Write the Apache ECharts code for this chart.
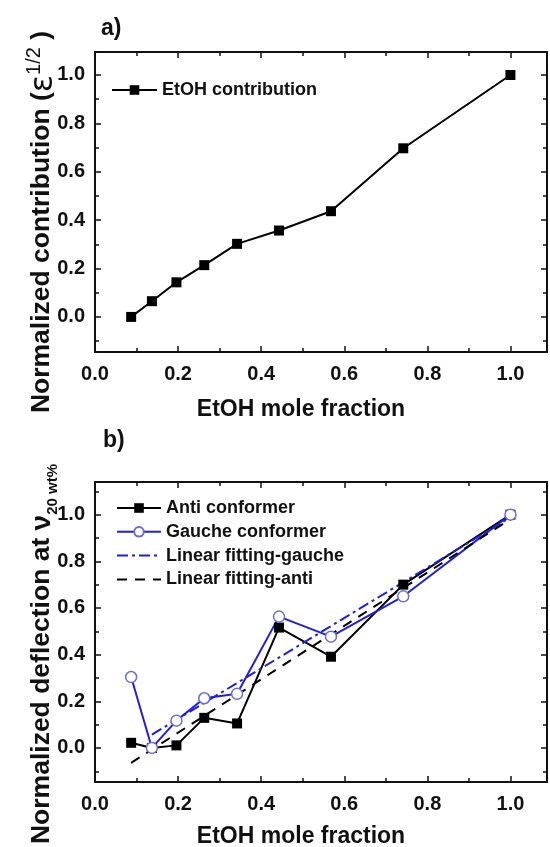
<!DOCTYPE html>
<html><head><meta charset="utf-8">
<script src="https://cdn.jsdelivr.net/npm/echarts@6/dist/echarts.min.js"></script>
<style>html,body{margin:0;padding:0;background:#fff}#c{width:550px;height:847px}</style>
</head><body><div id="c"></div>
<script>
// ---- data ----
const moleFraction = [0.087, 0.137, 0.196, 0.263, 0.342, 0.443, 0.568, 0.742, 1.0];
const etohContribution = [0.0, 0.065, 0.143, 0.214, 0.302, 0.357, 0.437, 0.697, 1.0];
const antiConformer = [0.022, 0.0, 0.011, 0.129, 0.105, 0.516, 0.391, 0.70, 1.0];
const gaucheConformer = [0.304, 0.0, 0.117, 0.213, 0.232, 0.563, 0.477, 0.65, 1.0];
const fitGaucheX = [0.137, 1.0];
const fitGaucheY = [0.057, 0.989];
const fitAntiX = [0.087, 1.0];
const fitAntiY = [-0.064, 0.981];
const xTickLabels = ['0.0', '0.2', '0.4', '0.6', '0.8', '1.0'];
const yTickLabels = ['0.0', '0.2', '0.4', '0.6', '0.8', '1.0'];

const FONT = 'Liberation Sans, Arial, sans-serif';
const BLUE = '#1f1fdc';
const CIRCLE = '#6d6dd0';

function pairs(xs, ys) { return xs.map((x, i) => [x, ys[i]]); }
function labelFrom(list) {
  return function (v) {
    const hit = list.find(t => Math.abs(parseFloat(t) - v) < 1e-6);
    return hit === undefined ? '' : hit;
  };
}

const axisCommon = {
  type: 'value',
  minInterval: 0.2, maxInterval: 0.2,
  nameMoveOverlap: false,
  axisLine: { show: true, onZero: false, lineStyle: { color: '#111', width: 2 } },
  axisTick: { show: true, inside: true, length: 6, lineStyle: { color: '#111', width: 1.5 } },
  minorTick: { show: true, splitNumber: 2, length: 4, lineStyle: { color: '#111', width: 1.5 } },
  splitLine: { show: false },
  minorSplitLine: { show: false }
};

function xAxisFor(grid, main, nameGap) {
  return Object.assign({}, axisCommon, {
    gridIndex: grid, min: 0, max: 1.088,
    position: main ? 'bottom' : 'top',
    axisLabel: main ? {
      show: true, margin: 12, fontSize: 20, fontWeight: 'bold', fontFamily: FONT, color: '#111',
      formatter: labelFrom(xTickLabels)
    } : { show: false },
    name: main ? 'EtOH mole fraction' : '',
    nameLocation: 'middle', nameGap: nameGap,
    nameTextStyle: { fontSize: 23, fontWeight: 'bold', fontFamily: FONT, color: '#111', padding: [0, 40, 0, 0] }
  });
}

function yAxisFor(grid, main, min, max, name, rich, pad) {
  return Object.assign({}, axisCommon, {
    gridIndex: grid, min: min, max: max,
    position: main ? 'left' : 'right',
    axisLabel: main ? {
      show: true, margin: 10, fontSize: 20, fontWeight: 'bold', fontFamily: FONT, color: '#111',
      formatter: labelFrom(yTickLabels)
    } : { show: false },
    name: main ? name : '',
    nameLocation: 'middle', nameGap: 35, nameRotate: 90,
    nameTextStyle: {
      fontSize: 26.5, fontWeight: 'bold', fontFamily: FONT, color: '#111',
      lineHeight: 36, padding: [0, pad, 0, 0], rich: rich
    }
  });
}

const topRich = {
  eps: { fontSize: 32, fontWeight: 'normal', fontFamily: 'DejaVu Sans, sans-serif', color: '#111', lineHeight: 36, verticalAlign: 'bottom' },
  sup: { fontSize: 20, fontWeight: 'normal', fontFamily: FONT, color: '#111', lineHeight: 20, verticalAlign: 'top' },
  tx: { fontSize: 26.5, fontWeight: 'bold', fontFamily: FONT, color: '#111', lineHeight: 36 }
};
const botRich = {
  tx: { fontSize: 26.5, fontWeight: 'bold', fontFamily: FONT, color: '#111', lineHeight: 36 },
  nu: { fontSize: 28, fontWeight: 'bold', fontFamily: FONT, color: '#111', lineHeight: 36 },
  sub: { fontSize: 15, fontWeight: 'bold', fontFamily: FONT, color: '#111', lineHeight: 15, verticalAlign: 'bottom' }
};

const noMarker = { opacity: 0 };

const chart = echarts.init(document.getElementById('c'), null, { renderer: 'canvas' });
chart.setOption({
  backgroundColor: '#fff',
  animation: false,
  grid: [
    { left: 95, right: 3, top: 52, height: 300, containLabel: false, outerBoundsMode: 'none' },
    { left: 95, right: 3, top: 482, height: 300, containLabel: false, outerBoundsMode: 'none' }
  ],
  graphic: [
    { type: 'text', left: 101, top: 17, style: { text: 'a)', fontSize: 23, fontWeight: 'bold', fontFamily: FONT, fill: '#111' } },
    { type: 'text', left: 103, top: 429, style: { text: 'b)', fontSize: 23, fontWeight: 'bold', fontFamily: FONT, fill: '#111' } }
  ],
  xAxis: [
    xAxisFor(0, true, 46), xAxisFor(0, false, 0),
    xAxisFor(1, true, 43), xAxisFor(1, false, 0)
  ],
  yAxis: [
    yAxisFor(0, true, -0.145, 1.095, '{tx|Normalized contribution (}{eps|ε}{sup|1/2}{tx| )}', topRich, 40),
    yAxisFor(0, false, -0.145, 1.095, '', topRich, 0),
    yAxisFor(1, true, -0.146, 1.14, '{tx|Normalized deflection at }{nu|ν}{sub|20 wt%}', botRich, 44),
    yAxisFor(1, false, -0.146, 1.14, '', botRich, 0)
  ],
  legend: [
    {
      left: 111, top: 80, padding: 0, orient: 'vertical', itemWidth: 45, itemHeight: 12,
      textStyle: { fontSize: 18, fontWeight: 'bold', fontFamily: FONT, color: '#111', lineHeight: 20 },
      data: ['EtOH contribution']
    },
    {
      left: 116, top: 498, padding: 0, orient: 'vertical', itemWidth: 44, itemHeight: 12, itemGap: 3.8,
      textStyle: { fontSize: 18, fontWeight: 'bold', fontFamily: FONT, color: '#111', lineHeight: 20 },
      data: [
        'Anti conformer',
        'Gauche conformer',
        { name: 'Linear fitting-gauche', itemStyle: noMarker },
        { name: 'Linear fitting-anti', itemStyle: noMarker }
      ]
    }
  ],
  series: [
    {
      name: 'EtOH contribution', type: 'line', xAxisIndex: 0, yAxisIndex: 0,
      data: pairs(moleFraction, etohContribution),
      symbol: 'rect', symbolSize: 10,
      lineStyle: { color: '#000', width: 2 }, itemStyle: { color: '#000' }
    },
    {
      name: 'Anti conformer', type: 'line', xAxisIndex: 2, yAxisIndex: 2,
      data: pairs(moleFraction, antiConformer),
      symbol: 'rect', symbolSize: 10,
      lineStyle: { color: '#000', width: 2 }, itemStyle: { color: '#000' }
    },
    {
      name: 'Gauche conformer', type: 'line', xAxisIndex: 2, yAxisIndex: 2,
      data: pairs(moleFraction, gaucheConformer),
      symbol: 'circle', symbolSize: 11,
      lineStyle: { color: BLUE, width: 2 },
      itemStyle: { color: '#fff', borderColor: CIRCLE, borderWidth: 1.5 }
    },
    {
      name: 'Linear fitting-gauche', type: 'line', xAxisIndex: 2, yAxisIndex: 2,
      data: pairs(fitGaucheX, fitGaucheY), symbol: 'none',
      lineStyle: { color: BLUE, width: 2, type: [11, 4, 3, 4] }, itemStyle: { color: BLUE }
    },
    {
      name: 'Linear fitting-anti', type: 'line', xAxisIndex: 2, yAxisIndex: 2,
      data: pairs(fitAntiX, fitAntiY), symbol: 'none',
      lineStyle: { color: '#000', width: 2, type: [10, 8] }, itemStyle: { color: '#000' }
    }
  ]
});
</script>
</body></html>
